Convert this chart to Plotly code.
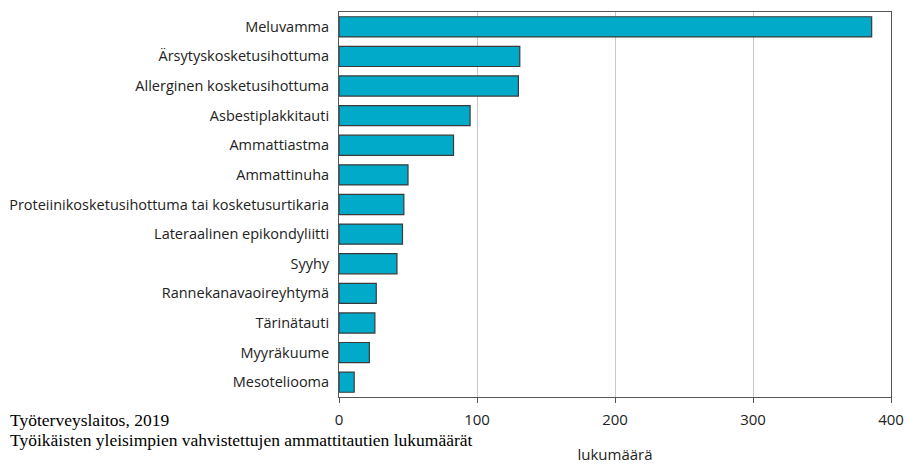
import plotly.graph_objects as go

categories = [
    "Meluvamma",
    "Ärsytyskosketusihottuma",
    "Allerginen kosketusihottuma",
    "Asbestiplakkitauti",
    "Ammattiastma",
    "Ammattinuha",
    "Proteiinikosketusihottuma tai kosketusurtikaria",
    "Lateraalinen epikondyliitti",
    "Syyhy",
    "Rannekanavaoireyhtymä",
    "Tärinätauti",
    "Myyräkuume",
    "Mesoteliooma",
]
values = [386, 131, 130, 95, 83, 50, 47, 46, 42, 27, 26, 22, 11]
tick_vals = [0, 100, 200, 300, 400]

fig = go.Figure(go.Bar(
    y=categories, x=values, orientation="h",
    marker=dict(color="#00AAC8", line=dict(color="#3a3a3a", width=1.2)),
    hoverinfo="skip",
))

fig.update_layout(
    width=907, height=464,
    margin=dict(l=339, r=16, t=12, b=67, autoexpand=False),
    plot_bgcolor="white", paper_bgcolor="white",
    bargap=0.32,
    showlegend=False,
    font=dict(family="Open Sans, sans-serif", size=14, color="#222"),
)
fig.update_xaxes(
    range=[0, 400], tickvals=tick_vals, automargin=False,
    showgrid=True, gridcolor="#c8c8c8", gridwidth=1,
    showline=True, linecolor="#555", linewidth=1, mirror=True,
    ticks="outside", ticklen=5, tickcolor="#555",
    tickfont=dict(size=15), ticklabelstandoff=4,
    title=dict(text="lukumäärä", font=dict(size=15), standoff=24),
    zeroline=False,
)
fig.update_yaxes(
    categoryorder="array", categoryarray=categories, autorange="reversed",
    range=[12.5, -0.5], automargin=False,
    showline=True, linecolor="#555", linewidth=1, mirror=True,
    ticks="", ticklabelstandoff=6,
    tickfont=dict(size=14.5),
)

serif = dict(family="Liberation Serif, Times New Roman, serif", size=17.5, color="#000")
fig.add_annotation(
    text="Työterveyslaitos, 2019",
    xref="paper", yref="paper", x=-331/552, y=(397 - 420) / 385, xanchor="left", yanchor="middle",
    showarrow=False, font=serif,
)
fig.add_annotation(
    text="Työikäisten yleisimpien vahvistettujen ammattitautien lukumäärät",
    xref="paper", yref="paper", x=-331/552, y=(397 - 440) / 385, xanchor="left", yanchor="middle",
    showarrow=False, font=serif,
)

fig.write_html(
    "out.html",
    config={"displayModeBar": False},
    post_script="document.body.style.margin='0';document.body.style.overflow='hidden';",
)
